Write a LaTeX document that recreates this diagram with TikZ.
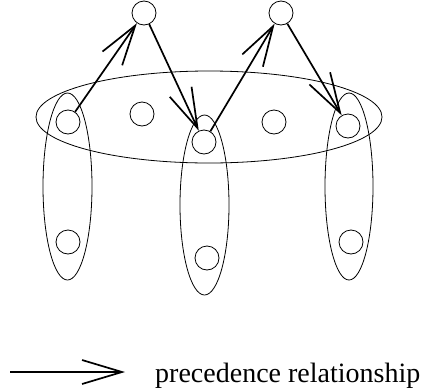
\documentclass[tikz,border=0pt]{standalone}
\usepackage{fontspec}
\setmainfont{Liberation Serif}
\usepackage{tikz}
\usetikzlibrary{arrows.meta}
\tikzstyle{every node}=[inner sep=0pt]
\tikzstyle{task}=[draw=black,circle,minimum size=24pt,line width=0.8pt]
\tikzstyle{group}=[draw=black,line width=0.8pt]
\tikzstyle{prec}=[line width=1.7pt,-{Straight Barb[length=40pt,width=24pt,line width=1.7pt]}]

\begin{document}
\begin{tikzpicture}[x=1pt,y=-1pt]
    \useasboundingbox (0,0) rectangle (425,391);
    % groups
    \draw [group] (209,117) ellipse [x radius=173,y radius=46];
    \draw [group] (67.5,186.5) ellipse [x radius=24.5,y radius=93.5];
    \draw [group] (204.5,205) ellipse [x radius=24.5,y radius=90];
    \draw [group] (349,186.5) ellipse [x radius=24,y radius=93.5];
    % tasks
    \node [task] (topL) at (144,13) {};
    \node [task] (topR) at (281,13) {};
    \node [task] (rowA) at (68,122) {};
    \node [task] (rowB) at (142,114) {};
    \node [task] (rowC) at (204,142) {};
    \node [task] (rowD) at (274,122) {};
    \node [task] (rowE) at (348,126) {};
    \node [task] (lowA) at (68,242) {};
    \node [task] (lowC) at (207,258) {};
    \node [task] (lowE) at (351,242) {};
    % precedence
    \draw [prec] (rowA) -- (topL);
    \draw [prec] (topL) -- (rowC);
    \draw [prec] (rowC) -- (topR);
    \draw [prec] (topR) -- (rowE);
    % legend
    \coordinate (legA) at (10,372);
    \coordinate (legB) at (125,372);
    \draw [prec] (legA) -- (legB);
    \node [anchor=base west,font=\fontsize{28}{30}\selectfont] (legT) at (155,382) {precedence relationship};
\end{tikzpicture}
\end{document}
